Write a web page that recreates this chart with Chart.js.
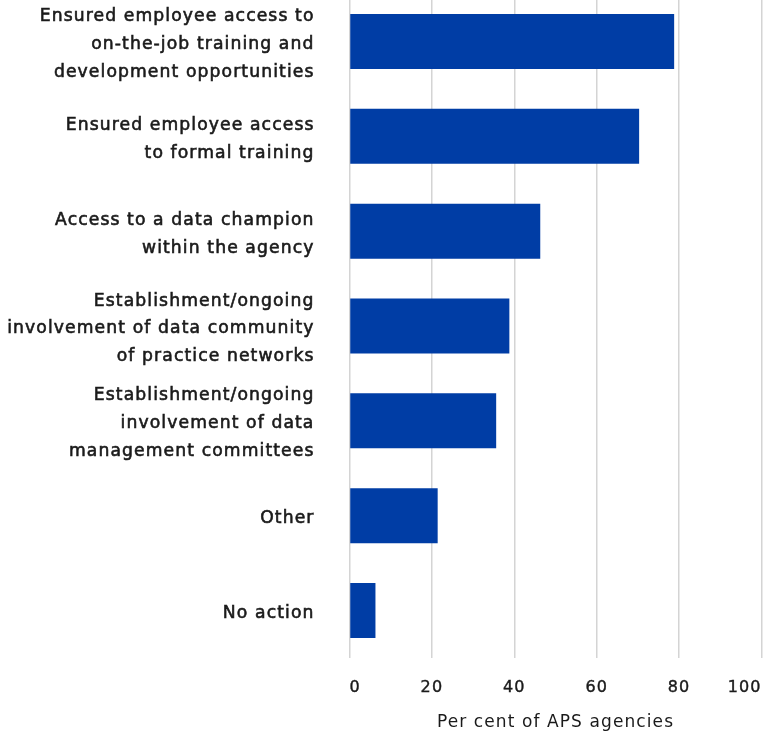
<!DOCTYPE html>
<html>
<head>
<meta charset="utf-8">
<script src="https://cdn.jsdelivr.net/npm/chart.js@4/dist/chart.umd.min.js"></script>
<style>
html,body{margin:0;padding:0;background:#fff;overflow:hidden;}
#wrap{position:absolute;left:0;top:-6px;width:768px;height:744px;}
</style>
</head>
<body>
<div id="wrap"><canvas id="c"></canvas></div>
<script>
const categories = [
  ["Ensured employee access to", "on-the-job training and", "development opportunities"],
  ["Ensured employee access", "to formal training"],
  ["Access to a data champion", "within the agency"],
  ["Establishment/ongoing", "involvement of data community", "of practice networks"],
  ["Establishment/ongoing", "involvement of data", "management committees"],
  ["Other"],
  ["No action"]
];
const values = [78.8, 70.3, 46.3, 38.8, 35.6, 21.4, 6.3];
const xTicks = [0, 20, 40, 60, 80, 100];
const axisTitle = "Per cent of APS agencies";

const FONT = "'DejaVu Sans', sans-serif";
const TXT = '#1a1a1a';

const spacing = {
  id: 'spacing',
  beforeDraw(chart) { chart.ctx.letterSpacing = '1.1px'; }
};

new Chart(document.getElementById('c'), {
  type: 'bar',
  data: {
    labels: categories,
    datasets: [{
      data: values,
      backgroundColor: '#003DA5',
      borderWidth: 0,
      barPercentage: 0.58,
      categoryPercentage: 1.0
    }]
  },
  plugins: [spacing],
  options: {
    indexAxis: 'y',
    responsive: true,
    maintainAspectRatio: false,
    animation: false,
    layout: { padding: { left: 0, top: 0, bottom: 0, right: 6.5 } },
    plugins: { legend: { display: false }, tooltip: { enabled: false } },
    scales: {
      x: {
        min: 0, max: 100,
        afterBuildTicks: (s) => { s.ticks = xTicks.map(v => ({ value: v })); },
        grid: { color: '#d4d4d4', lineWidth: 1.5, drawTicks: false },
        border: { display: false },
        ticks: { color: TXT, padding: 20, align: 'inner', textStrokeColor: TXT, textStrokeWidth: 0.4, font: { family: FONT, size: 16 } },
        title: { display: true, text: axisTitle, color: TXT, padding: { top: 6, bottom: 5 }, font: { family: FONT, size: 17 } },
        afterFit: (s) => { s.height = 80; s.paddingLeft = 0; s.paddingRight = 0; }
      },
      y: {
        grid: { display: false, drawTicks: false },
        border: { display: false },
        ticks: { color: TXT, padding: 35, labelOffset: 3, textStrokeColor: TXT, textStrokeWidth: 0.6, font: { family: FONT, size: 17.2, lineHeight: 1.62 } },
        afterFit: (s) => { s.width = 349.5; s.paddingTop = 0; s.paddingBottom = 0; }
      }
    }
  }
});
</script>
</body>
</html>
